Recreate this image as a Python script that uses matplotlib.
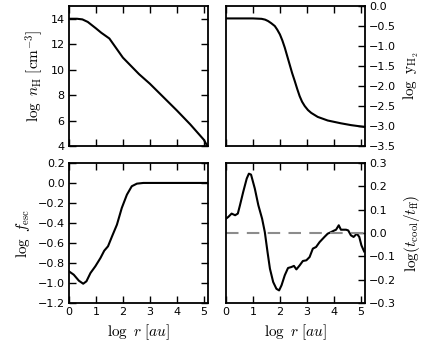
import numpy as np
import matplotlib
matplotlib.use('Agg')
import matplotlib.pyplot as plt

plt.rcParams['mathtext.fontset'] = 'cm'
plt.rcParams['font.size'] = 8

# данные
r_nh = [0, 0.3, 0.5, 0.7, 1.0, 1.2, 1.4, 1.5, 1.7, 2.0, 2.3, 2.6, 3.0, 3.5, 4.0, 4.5, 5.0, 5.12]
log_nh = [14.0, 14.0, 13.95, 13.75, 13.25, 12.9, 12.6, 12.45, 11.85, 10.95, 10.3, 9.65, 8.9, 7.85, 6.8, 5.7, 4.5, 4.05]

r_yh2 = [0, 0.5, 1.0, 1.32, 1.45, 1.56, 1.68, 1.81, 1.9, 2.0, 2.09, 2.18, 2.27, 2.36, 2.45, 2.55, 2.64, 2.73,
         2.82, 2.92, 3.04, 3.16, 3.4, 3.77, 4.26, 4.63, 5.12]
log_yh2 = [-0.31, -0.31, -0.31, -0.32, -0.34, -0.375, -0.43, -0.5, -0.59, -0.71, -0.86, -1.04, -1.25, -1.46,
           -1.67, -1.875, -2.07, -2.25, -2.39, -2.5, -2.6, -2.67, -2.77, -2.86, -2.93, -2.975, -3.02]

r_fesc = [0, 0.18, 0.37, 0.53, 0.65, 0.8, 0.98, 1.17, 1.31, 1.45, 1.6, 1.78, 1.96, 2.15, 2.33, 2.52, 2.76, 3.0, 5.15]
log_fesc = [-0.883, -0.917, -0.977, -1.007, -0.983, -0.9, -0.833, -0.75, -0.677, -0.633, -0.533, -0.417, -0.25,
            -0.117, -0.033, -0.007, 0.0, 0.0, 0.0]

r_tc = [0, 0.09, 0.21, 0.34, 0.44, 0.52, 0.64, 0.77, 0.85, 0.93, 1.07, 1.2, 1.34, 1.44, 1.54, 1.63, 1.75, 1.87,
        1.97, 2.06, 2.18, 2.3, 2.42, 2.52, 2.61, 2.73, 2.85, 2.98, 3.1, 3.22, 3.34, 3.47, 3.65, 3.77, 3.9, 4.02,
        4.08, 4.18, 4.26, 4.45, 4.53, 4.63, 4.73, 4.85, 4.94, 5.02, 5.12]
log_tc = [0.061, 0.069, 0.083, 0.076, 0.083, 0.119, 0.176, 0.233, 0.254, 0.25, 0.19, 0.119, 0.061, 0.004, -0.081,
          -0.153, -0.21, -0.239, -0.246, -0.224, -0.181, -0.15, -0.146, -0.141, -0.156, -0.139, -0.12, -0.117,
          -0.103, -0.067, -0.06, -0.039, -0.017, -0.003, 0.004, 0.011, 0.014, 0.033, 0.014, 0.014, 0.011, -0.01,
          -0.017, -0.003, -0.017, -0.053, -0.079]

xticks = [0, 1, 2, 3, 4, 5]

fig, axes = plt.subplots(2, 2, figsize=(4.36, 3.54), dpi=100)
fig.subplots_adjust(left=0.158, right=0.837, top=0.983, bottom=0.144, wspace=0.13, hspace=0.12)

ax1, ax2 = axes[0]
ax3, ax4 = axes[1]

ax1.plot(r_nh, log_nh, 'k-', lw=1.5)
ax1.set_ylim(4, 15)
ax1.set_yticks([4, 6, 8, 10, 12, 14])
ax1.set_ylabel(r'$\log\ n_{\rm H}\ [{\rm cm^{-3}}]$', fontsize=11)

ax2.plot(r_yh2, log_yh2, 'k-', lw=1.5)
ax2.set_ylim(-3.5, 0.0)
ax2.set_yticks(np.arange(-3.5, 0.01, 0.5))
ax2.set_ylabel(r'$\log\ {\rm y}_{\rm H_2}$', fontsize=11)

ax3.plot(r_fesc, log_fesc, 'k-', lw=1.5)
ax3.set_ylim(-1.2, 0.2)
ax3.set_yticks(np.arange(-1.2, 0.21, 0.2))
ax3.set_ylabel(r'$\log\ f_{\rm esc}$', fontsize=11)

ax4.plot(r_tc, log_tc, 'k-', lw=1.5)
ax4.axhline(0, color='0.55', ls='--', dashes=(6, 4), lw=1.5)
ax4.set_ylim(-0.3, 0.3)
ax4.set_yticks(np.arange(-0.3, 0.31, 0.1))
ax4.set_ylabel(r'$\log(t_{\rm cool}/t_{\rm ff})$', fontsize=11)

for ax in [ax1, ax2, ax3, ax4]:
    ax.set_xlim(0, 5.15)
    ax.set_xticks(xticks)
    for s in ax.spines.values():
        s.set_linewidth(1.3)

for ax in [ax1, ax3]:
    ax.tick_params(direction='in', top=True, right=True, length=5, width=1, pad=3)

for ax in [ax2, ax4]:
    ax.yaxis.tick_right()
    ax.yaxis.set_label_position('right')
    ax.tick_params(direction='in', top=True, left=False, right=True, length=5, width=1, pad=3)

for ax in [ax1, ax2]:
    ax.set_xticklabels([])

for ax in [ax3, ax4]:
    ax.set_xlabel(r'$\log\ r\ [au]$', fontsize=11)

fig.savefig('out.png', dpi=100)
